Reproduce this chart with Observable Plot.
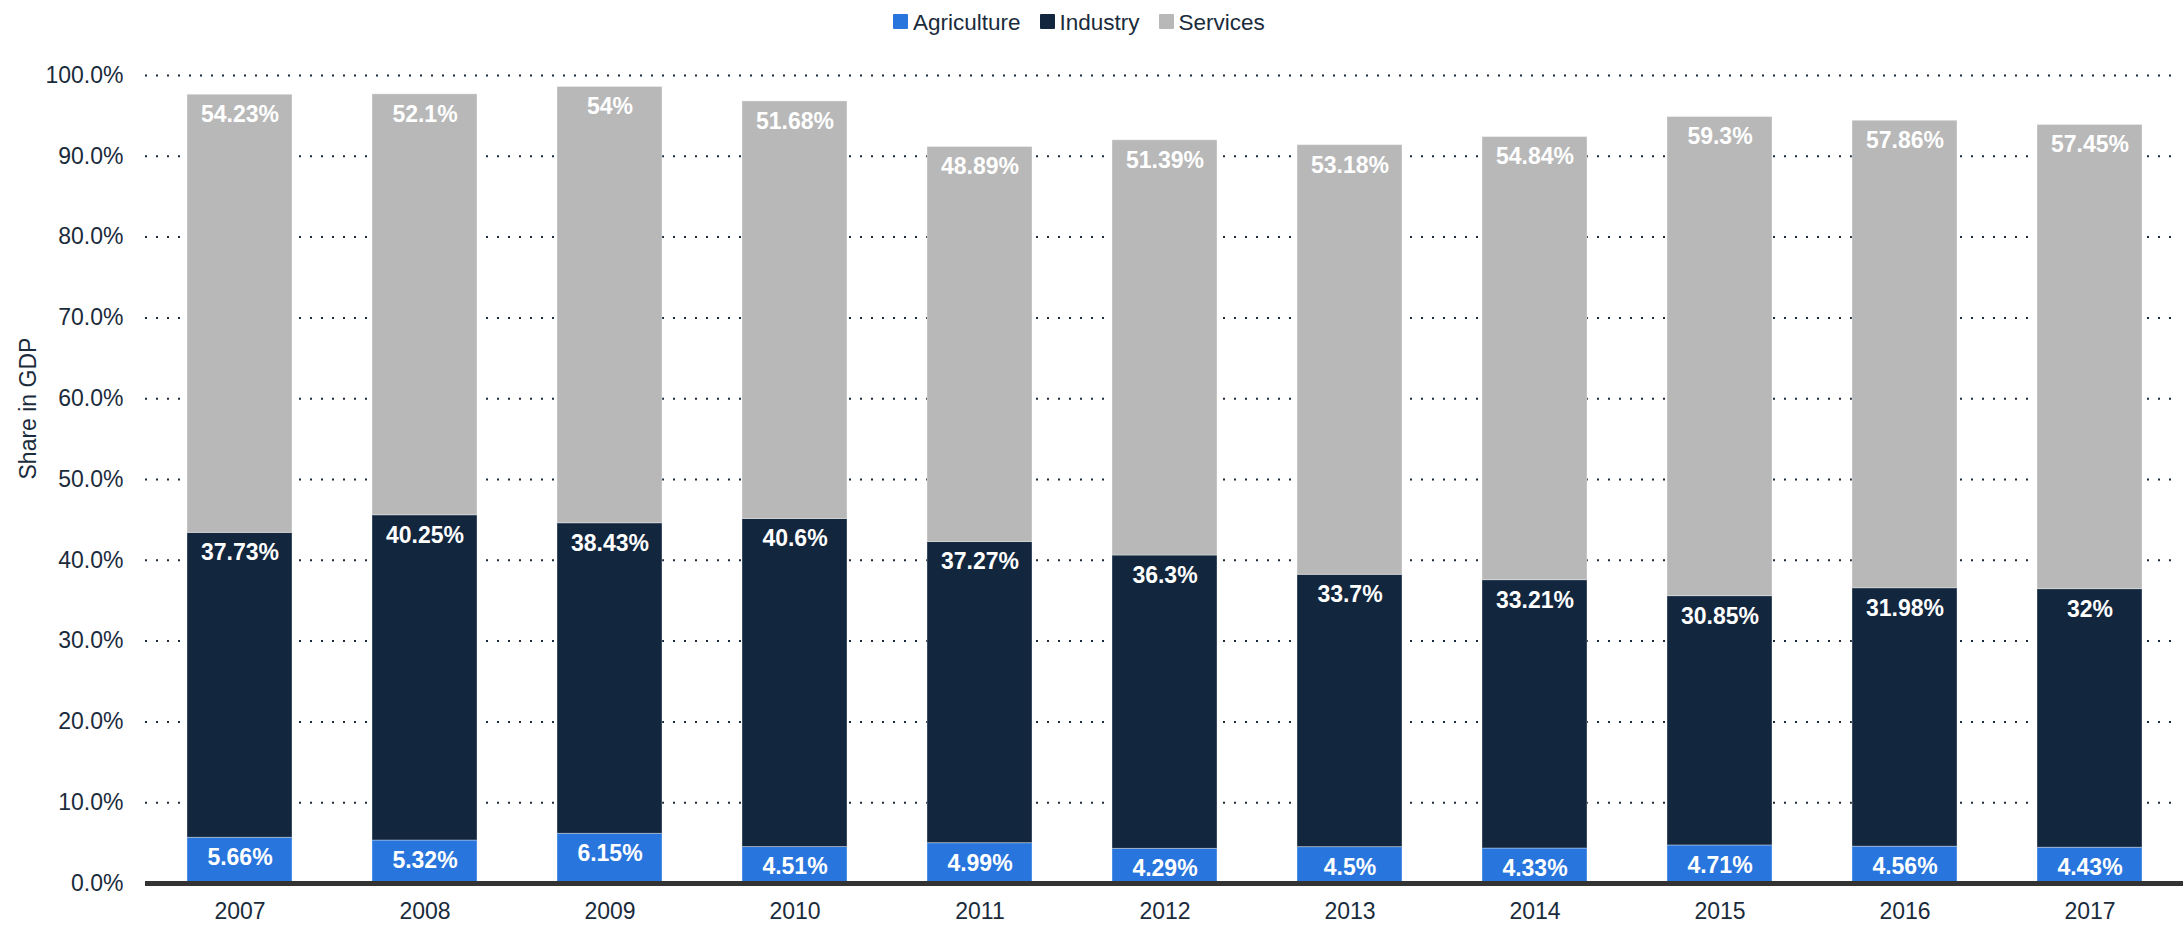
<!DOCTYPE html>
<html>
<head>
<meta charset="utf-8">
<script src="https://cdn.jsdelivr.net/npm/d3@7"></script>
<script src="https://cdn.jsdelivr.net/npm/@observablehq/plot@0.6"></script>
<style>
  html, body { margin: 0; padding: 0; background: #fff; }
  body { width: 2183px; font-family: "Liberation Sans", Arial, sans-serif; }
  #legend { height: 45px; display: flex; align-items: center; padding-left: 893px; box-sizing: border-box; font-size: 22.5px; color: #1a2b3c; }
  #legend .item { display: flex; align-items: center; margin-right: 19px; }
  #legend .sw { width: 15px; height: 15px; margin-right: 5px; border-radius: 1px; position: relative; top: -1px; }
  #chart svg { display: block; }
</style>
</head>
<body>
<div id="legend"></div>
<div id="chart"></div>
<script>
const years = ["2007","2008","2009","2010","2011","2012","2013","2014","2015","2016","2017"];
const sectors = ["Agriculture", "Industry", "Services"];
const colors = ["#2876dd", "#12263e", "#b8b8b8"];
const agriculture = [5.66, 5.32, 6.15, 4.51, 4.99, 4.29, 4.5, 4.33, 4.71, 4.56, 4.43];
const industry = [37.73, 40.25, 38.43, 40.6, 37.27, 36.3, 33.7, 33.21, 30.85, 31.98, 32];
const services = [54.23, 52.1, 54, 51.68, 48.89, 51.39, 53.18, 54.84, 59.3, 57.86, 57.45];
const yTicks = [0, 10, 20, 30, 40, 50, 60, 70, 80, 90, 100];
const yLabel = "Share in GDP";

const series = [agriculture, industry, services];
const data = [];
sectors.forEach((s, i) => years.forEach((y, j) => data.push({sector: s, year: y, value: series[i][j]})));

// legend
const legend = document.getElementById("legend");
sectors.forEach((s, i) => {
  const it = document.createElement("div");
  it.className = "item";
  const sw = document.createElement("div");
  sw.className = "sw";
  sw.style.background = colors[i];
  const t = document.createElement("span");
  t.textContent = s;
  it.appendChild(sw); it.appendChild(t);
  legend.appendChild(it);
});

const textColor = "#1a2b3c";
const chart = Plot.plot({
  width: 2183,
  height: 880,
  marginTop: 30,
  marginBottom: 42,
  marginLeft: 145,
  marginRight: 0,
  style: {fontFamily: "'Liberation Sans', Arial, sans-serif", fontSize: "23px", color: textColor, background: "#fff"},
  x: {domain: years, paddingInner: 0.433, paddingOuter: 0.217, label: null},
  y: {domain: [0, 100], label: null},
  color: {domain: sectors, range: colors},
  marks: [
    Plot.ruleY(yTicks.filter(d => d > 0), {stroke: "#1a2b3c", strokeWidth: 2, strokeDasharray: "2 9", insetRight: 8}),
    Plot.barY(data, {x: "year", y: "value", fill: "sector", z: "sector", stroke: "#ffffff", strokeOpacity: 0.35, strokeWidth: 1}),
    Plot.text(data, Plot.stackY2({x: "year", y: "value", z: "sector", text: d => `${d.value}%`, dy: 20, fill: "white", fontWeight: "bold", fontSize: 23, lineAnchor: "middle"})),
    Plot.ruleY([0], {stroke: "#333333", strokeWidth: 5}),
    Plot.axisY({ticks: yTicks, tickSize: 0, tickPadding: 22, tickFormat: d => d.toFixed(1) + "%", fill: textColor, fontSize: 23, label: null}),
    Plot.axisX({tickSize: 0, tickPadding: 19, fill: textColor, fontSize: 23, label: null}),
    Plot.text([yLabel], {frameAnchor: "left", text: d => d, rotate: -90, dx: -117, fill: textColor, fontSize: 23})
  ]
});
document.getElementById("chart").appendChild(chart);
</script>
</body>
</html>
